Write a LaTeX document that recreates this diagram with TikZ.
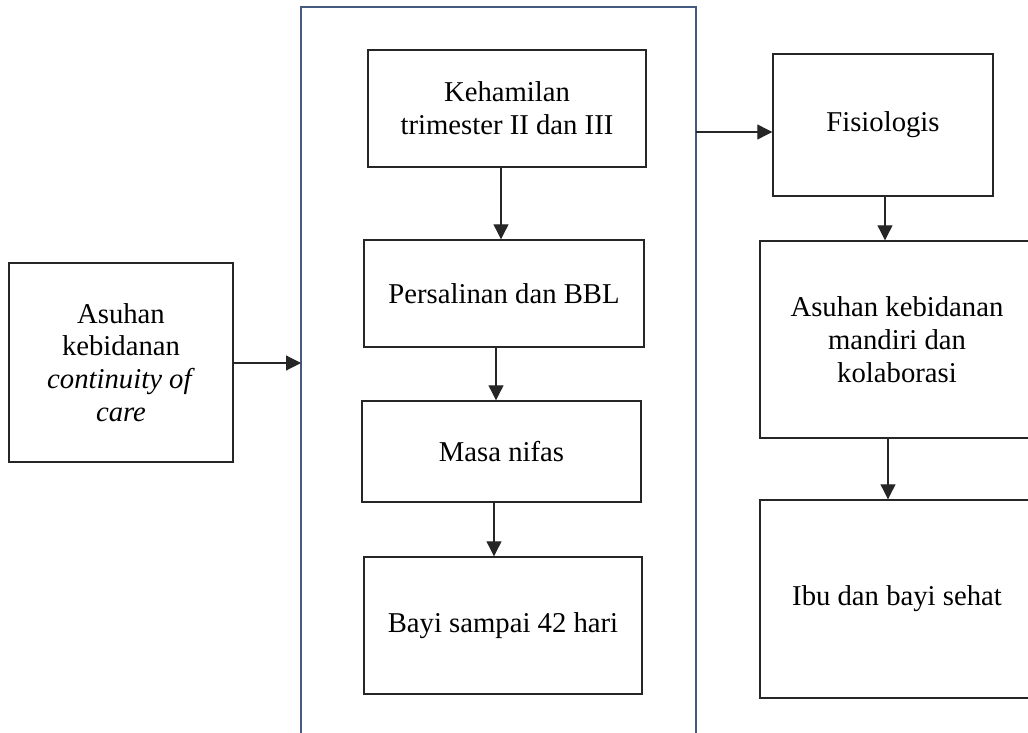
\documentclass[tikz,border=0pt]{standalone}
\usepackage{fontspec}
\setmainfont{Liberation Serif}
\usetikzlibrary{arrows.meta}
\definecolor{framecol}{RGB}{68,90,128}

\begin{document}
\begin{tikzpicture}[x=0.03cm,y=-0.03cm,>={Triangle[length=0.45cm,width=0.45cm]},
  box/.style={draw=black!85,line width=1.2pt,align=center,inner sep=0pt,
    font=\fontsize{24.5}{28}\selectfont},
  arr/.style={->,black!85,line width=1pt}]
  \clip (0,0) rectangle (1028,733);

  % --- outer frame, open at the bottom ---
  \draw[framecol,line width=1.2pt] (301,733) -- (301,7) -- (696,7) -- (696,733);
  \coordinate (fin) at (301,363);
  \coordinate (fout) at (696,132);

  % --- left box ---
  \node[box,minimum width=6.72cm,minimum height=5.97cm] (care) at (121,362.5)
    {Asuhan\\kebidanan\\\textit{continuity of}\\\textit{care}};

  % --- middle column ---
  \node[box,minimum width=8.34cm,minimum height=3.51cm] (keh) at (507,108.5)
    {Kehamilan\\trimester II dan III};
  \node[box,minimum width=8.40cm,minimum height=3.21cm] (pers) at (504,293.5)
    {Persalinan dan BBL};
  \node[box,minimum width=8.37cm,minimum height=3.03cm] (nifas) at (501.5,451.5)
    {Masa nifas};
  \node[box,minimum width=8.34cm,minimum height=4.11cm] (bayi) at (503,625.5)
    {Bayi sampai 42 hari};

  % --- right column ---
  \node[box,minimum width=6.60cm,minimum height=4.26cm] (fis) at (883,125)
    {Fisiologis};
  \node[box,minimum width=8.22cm,minimum height=5.91cm] (mandiri) at (897,339.5)
    {Asuhan kebidanan\\mandiri dan\\kolaborasi};
  \node[box,minimum width=8.22cm,minimum height=5.94cm] (sehat) at (897,599)
    {Ibu dan bayi sehat};

  % --- connectors ---
  \draw[arr] (care.east |- fin) -- (fin);
  \draw[arr] (fout) -- (fout -| fis.west);

  \coordinate (c1) at (501,0);
  \coordinate (c2) at (496,0);
  \coordinate (c3) at (494,0);
  \coordinate (c4) at (885,0);
  \coordinate (c5) at (888,0);
  \draw[arr] (keh.south -| c1) -- (pers.north -| c1);
  \draw[arr] (pers.south -| c2) -- (nifas.north -| c2);
  \draw[arr] (nifas.south -| c3) -- (bayi.north -| c3);
  \draw[arr] (fis.south -| c4) -- (mandiri.north -| c4);
  \draw[arr] (mandiri.south -| c5) -- (sehat.north -| c5);
\end{tikzpicture}
\end{document}
